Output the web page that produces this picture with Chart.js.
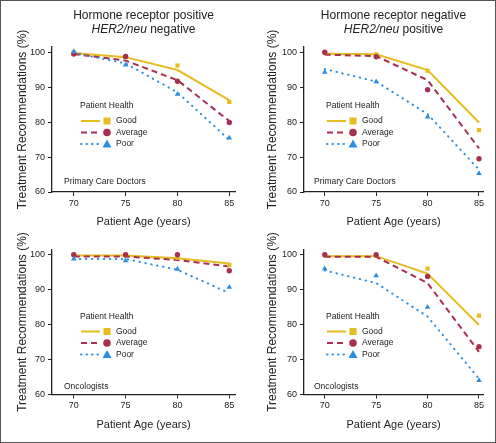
<!DOCTYPE html>
<html>
<head>
<meta charset="utf-8">
<script src="https://cdn.jsdelivr.net/npm/chart.js@4.4.1/dist/chart.umd.min.js"></script>
<style>
body { margin: 0; background: #fff; }
#wrap { position: relative; width: 496px; height: 443px; overflow: hidden; }
#frame { position: absolute; left: 0; top: 0; width: 496px; height: 443px; box-sizing: border-box; border: 1px solid #555; pointer-events: none; }
canvas { position: absolute; }
</style>
</head>
<body>
<div id="wrap">
  <canvas id="c1" width="248" height="232" style="left:0;top:0"></canvas>
  <canvas id="c2" width="248" height="232" style="left:248px;top:0"></canvas>
  <canvas id="c3" width="248" height="222" style="left:0;top:221px"></canvas>
  <canvas id="c4" width="248" height="222" style="left:248px;top:221px"></canvas>
  <div id="frame"></div>
</div>
<script>
var ages = [70, 75, 80, 85];
var yTicks = [60, 70, 80, 90, 100];
var healthLabels = ["Good", "Average", "Poor"];

// primary care doctors, HR positive / HER2 negative
var pcpPosGoodFit = [99.8, 98.6, 94.9, 86.3];
var pcpPosGoodObs = [100, 98.6, 96.2, 85.8];
var pcpPosAvgFit = [99.5, 97.6, 92.0, 80.3];
var pcpPosAvgObs = [99.5, 98.8, 91.7, 79.9];
var pcpPosPoorFit = [99.8, 96.8, 88.5, 74.9];
var pcpPosPoorObs = [100.2, 96.4, 88.0, 75.5];

// primary care doctors, HR negative / HER2 positive
var pcpNegGoodFit = [99.6, 99.4, 94.9, 79.9];
var pcpNegGoodObs = [99.8, 99.4, 94.7, 77.7];
var pcpNegAvgFit = [99.3, 98.9, 92.0, 72.5];
var pcpNegAvgObs = [100, 98.7, 89.3, 69.5];
var pcpNegPoorFit = [95.2, 91.6, 82.3, 66.4];
var pcpNegPoorObs = [94.3, 91.6, 81.5, 65.3];

// oncologists, HR positive / HER2 negative
var oncPosGoodFit = [99.8, 99.8, 99.0, 97.5];
var oncPosGoodObs = [100, 100, 99.2, 97.1];
var oncPosAvgFit = [99.5, 99.5, 98.5, 96.6];
var oncPosAvgObs = [100, 100, 100, 95.4];
var oncPosPoorFit = [98.8, 98.8, 95.7, 89.0];
var oncPosPoorObs = [98.8, 98.3, 95.9, 90.7];

// oncologists, HR negative / HER2 positive
var oncNegGoodFit = [99.6, 99.6, 94.6, 79.9];
var oncNegGoodObs = [99.9, 99.9, 96.0, 82.6];
var oncNegAvgFit = [99.4, 99.4, 91.9, 72.2];
var oncNegAvgObs = [100, 100, 93.8, 73.7];
var oncNegPoorFit = [95.5, 91.9, 82.3, 64.5];
var oncNegPoorObs = [96.0, 94.0, 85.0, 64.0];

var goodColor = "#E6BC1F";
var avgColor = "#A8304E";
var poorColor = "#2C8EE0";

var regular = '"Liberation Sans", Arial, sans-serif';

function pts(vals) {
    var out = [];
    for (var i = 0; i < ages.length; i++) out.push({x: ages[i], y: vals[i]});
    return out;
}

function buildSets(s) {
    var marks = function(vals, style, r, col) {
        return { data: pts(vals), showLine: false, pointStyle: style, pointRadius: r,
                 pointBackgroundColor: col, pointBorderWidth: 0, borderColor: col, backgroundColor: col };
    };
    var line = function(vals, dash, col, cap) {
        return { data: pts(vals), pointRadius: 0, borderColor: col, borderWidth: 2,
                 borderDash: dash, borderCapStyle: cap, tension: 0, fill: false };
    };
    return [
        marks(s.poorObs, "triangle", 3.2, poorColor),
        marks(s.avgObs, "circle", 2.7, avgColor),
        marks(s.goodObs, "rect", 3.0, goodColor),
        line(s.poorFit, [0.5, 5.5], poorColor, "round"),
        line(s.avgFit, [6, 4], avgColor, "butt"),
        line(s.goodFit, [], goodColor, "butt")
    ];
}

var decorPlugin = {
    id: "decor",
    afterDraw: function(chart, args, o) {
        var ctx = chart.ctx, a = chart.chartArea;
        ctx.save();
        ctx.fillStyle = "#222";
        ctx.textBaseline = "alphabetic";
        ctx.textAlign = "left";
        // two-line panel title with italic gene name
        (o.title || []).forEach(function(line, i) {
            var w = 0;
            line.forEach(function(seg) {
                ctx.font = (seg.i ? "italic " : "") + "12px " + regular;
                w += ctx.measureText(seg.t).width;
            });
            var x = (a.left + a.right) / 2 - w / 2;
            line.forEach(function(seg) {
                ctx.font = (seg.i ? "italic " : "") + "12px " + regular;
                ctx.fillText(seg.t, x, o.titleY[i]);
                x += ctx.measureText(seg.t).width;
            });
        });
        // legend
        var lx = a.left + o.lx, ly = a.bottom + o.ly;
        ctx.font = "8.5px " + regular;
        ctx.textBaseline = "middle";
        ctx.fillText("Patient Health", lx, ly);
        var cols = [goodColor, avgColor, poorColor];
        var dashes = [[], [6, 4], [0.5, 5]];
        for (var i = 0; i < 3; i++) {
            var y = ly + 15 + i * 11.5;
            ctx.strokeStyle = cols[i];
            ctx.lineWidth = 2;
            ctx.setLineDash(dashes[i]);
            ctx.lineCap = i == 2 ? "round" : "butt";
            ctx.beginPath();
            ctx.moveTo(lx + 1, y);
            ctx.lineTo(lx + 20, y);
            ctx.stroke();
            ctx.setLineDash([]);
            ctx.fillStyle = cols[i];
            var mx = lx + 27;
            ctx.beginPath();
            if (i == 0) ctx.rect(mx - 3.5, y - 3.5, 7, 7);
            if (i == 1) ctx.arc(mx, y, 3.8, 0, Math.PI * 2);
            if (i == 2) { ctx.moveTo(mx, y - 4.5); ctx.lineTo(mx + 4.5, y + 3.5); ctx.lineTo(mx - 4.5, y + 3.5); ctx.closePath(); }
            ctx.fill();
            ctx.fillStyle = "#222";
            ctx.fillText(healthLabels[i], lx + 36, y);
        }
        // physician group
        ctx.fillText(o.group, a.left + o.gx, a.bottom + o.gy);
        ctx.restore();
    }
};

function makeChart(id, sets, cfg) {
    new Chart(document.getElementById(id), {
        type: "line",
        data: { datasets: buildSets(sets) },
        plugins: [decorPlugin],
        options: {
            responsive: false,
            animation: false,
            layout: { padding: { top: cfg.padTop, bottom: cfg.padBottom, left: 0, right: 13 } },
            plugins: {
                legend: { display: false },
                tooltip: { enabled: false },
                decor: cfg.decor
            },
            scales: {
                x: {
                    type: "linear", min: cfg.xMin, max: cfg.xMax,
                    afterBuildTicks: function(s) { s.ticks = ages.map(function(v) { return {value: v}; }); },
                    afterFit: function(s) { s.height = 37; },
                    grid: { display: true, drawOnChartArea: false, tickLength: 4, color: "#222" },
                    border: { color: "#222", width: 1.3 },
                    ticks: { color: "#222", font: { family: regular, size: 9 }, padding: 2, maxRotation: 0 },
                    title: { display: true, text: "Patient Age (years)", color: "#222",
                             font: { family: regular, size: 11 }, padding: 0 }
                },
                y: {
                    min: 60, max: 101.5,
                    afterBuildTicks: function(s) { s.ticks = yTicks.map(function(v) { return {value: v}; }); },
                    afterFit: function(s) { s.width = cfg.yWidth; },
                    grid: { display: true, drawOnChartArea: false, tickLength: 4, color: "#222" },
                    border: { color: "#222", width: 1.3 },
                    ticks: { color: "#222", font: { family: regular, size: 9 }, padding: 3 },
                    title: { display: true, text: "Treatment Recommendations (%)", color: "#222",
                             font: { family: regular, size: 12 }, padding: { top: cfg.yTitlePad, bottom: 0 } }
                }
            }
        }
    });
}

makeChart("c1", {goodFit: pcpPosGoodFit, goodObs: pcpPosGoodObs, avgFit: pcpPosAvgFit, avgObs: pcpPosAvgObs, poorFit: pcpPosPoorFit, poorObs: pcpPosPoorObs},
    {padTop: 47, padBottom: 3, xMin: 67.9, xMax: 85.55, yWidth: 52, yTitlePad: 15,
     decor: {title: [[{t: "Hormone receptor positive"}], [{t: "HER2/neu", i: true}, {t: " negative"}]], titleY: [19, 33],
             lx: 28, ly: -86, group: "Primary Care Doctors", gx: 12, gy: -10}});
makeChart("c2", {goodFit: pcpNegGoodFit, goodObs: pcpNegGoodObs, avgFit: pcpNegAvgFit, avgObs: pcpNegAvgObs, poorFit: pcpNegPoorFit, poorObs: pcpNegPoorObs},
    {padTop: 47, padBottom: 3, xMin: 67.98, xMax: 85.39, yWidth: 56, yTitlePad: 17,
     decor: {title: [[{t: "Hormone receptor negative"}], [{t: "HER2/neu", i: true}, {t: " positive"}]], titleY: [19, 33],
             lx: 22, ly: -86, group: "Primary Care Doctors", gx: 10, gy: -10}});
makeChart("c3", {goodFit: oncPosGoodFit, goodObs: oncPosGoodObs, avgFit: oncPosAvgFit, avgObs: oncPosAvgObs, poorFit: oncPosPoorFit, poorObs: oncPosPoorObs},
    {padTop: 28.5, padBottom: 11.5, xMin: 67.9, xMax: 85.55, yWidth: 52, yTitlePad: 15,
     decor: {lx: 28, ly: -78, group: "Oncologists", gx: 12, gy: -8}});
makeChart("c4", {goodFit: oncNegGoodFit, goodObs: oncNegGoodObs, avgFit: oncNegAvgFit, avgObs: oncNegAvgObs, poorFit: oncNegPoorFit, poorObs: oncNegPoorObs},
    {padTop: 28.5, padBottom: 11.5, xMin: 67.98, xMax: 85.39, yWidth: 56, yTitlePad: 17,
     decor: {lx: 22, ly: -78, group: "Oncologists", gx: 10, gy: -8}});
</script>
</body>
</html>
